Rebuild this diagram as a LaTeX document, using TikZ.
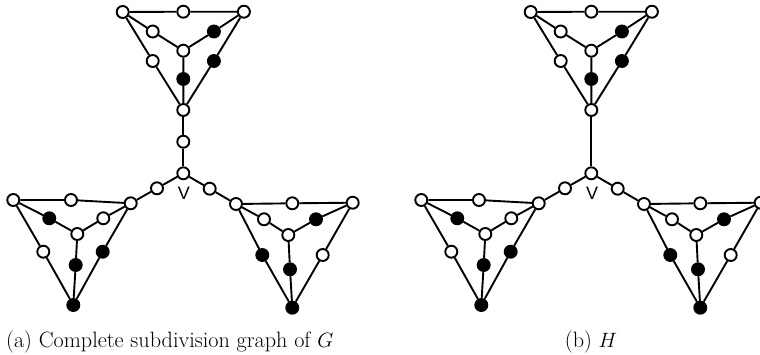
\documentclass[tikz,border=0pt]{standalone}
\usepackage{fontspec}
\newfontfamily\hv{Liberation Sans}
\tikzset{
  wv/.style={circle,draw,fill=white,line width=1.9pt,minimum size=12pt,inner sep=0pt},
  bv/.style={wv,fill=black},
  ed/.style={line width=1.9pt},
  captext/.style={font=\fontsize{22.2}{26}\selectfont},
}
\newcommand\mygadgets{%
  % top gadget
  \node[wv] (tTL) at (122.7,12) {};
  \node[wv] (tTM) at (183.3,11.7) {};
  \node[wv] (tTR) at (243.9,11.7) {};
  \node[wv] (tIL) at (152.7,31.5) {};
  \node[bv] (tIR) at (213.9,31.5) {};
  \node[wv] (tC)  at (183.3,50.7) {};
  \node[wv] (tSL) at (152.7,61) {};
  \node[bv] (tSR) at (213.9,61) {};
  \node[bv] (tCL) at (183.3,79) {};
  \node[wv] (tB)  at (183.3,110) {};
  \draw[ed] (tTL)--(tTM)--(tTR) (tTL)--(tIL)--(tC)--(tIR)--(tTR)
            (tTL)--(tSL)--(tB) (tTR)--(tSR)--(tB) (tC)--(tCL)--(tB);
  % left gadget
  \node[wv] (lTL) at (13.3,200) {};
  \node[wv] (lTM) at (71,200) {};
  \node[wv] (lTR) at (130.7,203.3) {};
  \node[bv] (lIL) at (49.3,218.3) {};
  \node[wv] (lIR) at (103.3,218.3) {};
  \node[wv] (lC)  at (77.3,234) {};
  \node[wv] (lSL) at (43.3,251.7) {};
  \node[bv] (lSR) at (102.7,251.7) {};
  \node[bv] (lCL) at (75.7,265) {};
  \node[bv] (lB)  at (73.3,305) {};
  \draw[ed] (lTL)--(lTM)--(lTR) (lTL)--(lIL)--(lC)--(lIR)--(lTR)
            (lTL)--(lSL)--(lB) (lTR)--(lSR)--(lB) (lC)--(lCL)--(lB);
  % right gadget
  \node[wv] (rTL) at (236,204) {};
  \node[wv] (rTM) at (292.3,203.3) {};
  \node[wv] (rTR) at (352.7,202.7) {};
  \node[wv] (rIL) at (264,219.3) {};
  \node[bv] (rIR) at (316,219.3) {};
  \node[wv] (rC)  at (288.3,235) {};
  \node[bv] (rSL) at (262.3,255) {};
  \node[wv] (rSR) at (322.7,255) {};
  \node[bv] (rCL) at (290,269.3) {};
  \node[bv] (rB)  at (292.3,307.7) {};
  \draw[ed] (rTL)--(rTM)--(rTR) (rTL)--(rIL)--(rC)--(rIR)--(rTR)
            (rTL)--(rSL)--(rB) (rTR)--(rSR)--(rB) (rC)--(rCL)--(rB);
  % centre
  \node[wv] (v)  at (183.3,173.3) {};
  \node[wv] (pL) at (157,188.3) {};
  \node[wv] (pR) at (209.7,188.7) {};
  \draw[ed] (lTR)--(pL)--(v)--(pR)--(rTL);
  \node[font=\hv\fontsize{18}{18}\selectfont] (vl) at (184,193.5) {V};
}
\begin{document}
\begin{tikzpicture}[x=1pt,y=-1pt]
  \useasboundingbox (0,0) rectangle (760,354);
  \begin{scope}[name prefix=a-]
    \mygadgets
    \node[wv] (pT) at (183.3,141.7) {};
    \draw[ed] (tB)--(pT)--(v);
    \node[captext,anchor=base west,inner sep=0pt] (capa) at (6,347) {(a) Complete subdivision graph of $G$};
  \end{scope}
  \begin{scope}[shift={(408,0)},name prefix=b-]
    \mygadgets
    \draw[ed] (tB)--(v);
    \node[captext,anchor=base,inner sep=0pt] (capb) at (183,347) {(b) $H$};
  \end{scope}
\end{tikzpicture}
\end{document}
